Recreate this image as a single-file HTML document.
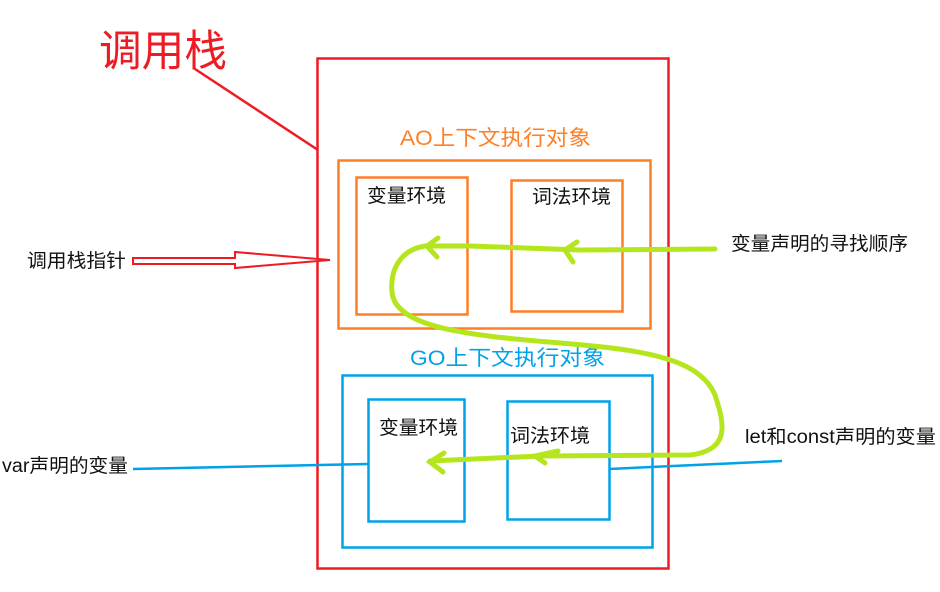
<!DOCTYPE html>
<html><head><meta charset="utf-8"><style>
body{margin:0;background:#fff}
svg{display:block}
text{font-family:"Liberation Sans","Noto Sans CJK SC",sans-serif}
</style></head><body>
<svg width="940" height="592" viewBox="0 0 940 592" xmlns="http://www.w3.org/2000/svg">
<rect x="0" y="0" width="940" height="592" fill="#fff"/>
<text x="99" y="66" font-size="43" fill="#ed1c24" textLength="128" lengthAdjust="spacingAndGlyphs">调用栈</text>
<line x1="195" y1="69" x2="318" y2="150" stroke="#ed1c24" stroke-width="2.5"/>
<rect x="317.5" y="58.5" width="351" height="510" fill="none" stroke="#ed1c24" stroke-width="2.5"/>
<text x="400" y="145" font-size="21" fill="#ff7f27" textLength="191" lengthAdjust="spacingAndGlyphs">AO上下文执行对象</text>
<rect x="338.5" y="160.5" width="312" height="168" fill="none" stroke="#ff7f27" stroke-width="2.5"/>
<rect x="356.5" y="177.5" width="111" height="137" fill="none" stroke="#ff7f27" stroke-width="2.5"/>
<rect x="511.5" y="180.5" width="111" height="131" fill="none" stroke="#ff7f27" stroke-width="2.5"/>
<text x="367" y="202" font-size="19" fill="#111" textLength="79" lengthAdjust="spacingAndGlyphs">变量环境</text>
<text x="532" y="203" font-size="19" fill="#111" textLength="79" lengthAdjust="spacingAndGlyphs">词法环境</text>
<text x="410" y="365" font-size="21" fill="#00a2e8" textLength="195" lengthAdjust="spacingAndGlyphs">GO上下文执行对象</text>
<rect x="342.5" y="375.5" width="310" height="172" fill="none" stroke="#00a2e8" stroke-width="2.5"/>
<rect x="368.5" y="399.5" width="96" height="122" fill="none" stroke="#00a2e8" stroke-width="2.5"/>
<rect x="507.5" y="401.5" width="102" height="118" fill="none" stroke="#00a2e8" stroke-width="2.5"/>
<text x="379" y="434" font-size="19" fill="#111" textLength="79" lengthAdjust="spacingAndGlyphs">变量环境</text>
<text x="510" y="442" font-size="19" fill="#111" textLength="80" lengthAdjust="spacingAndGlyphs">词法环境</text>
<text x="27" y="267" font-size="19" fill="#111" textLength="99" lengthAdjust="spacingAndGlyphs">调用栈指针</text>
<polygon points="133,258 235,258 235,252 330,260 235,268 235,264 133,264" fill="#fff" stroke="#ed1c24" stroke-width="2"/>
<text x="731" y="250" font-size="19" fill="#111" textLength="177" lengthAdjust="spacingAndGlyphs">变量声明的寻找顺序</text>
<text x="745" y="443" font-size="19" fill="#111" textLength="191" lengthAdjust="spacingAndGlyphs">let和const声明的变量</text>
<text x="2" y="472" font-size="19" fill="#111" textLength="126" lengthAdjust="spacingAndGlyphs">var声明的变量</text>
<line x1="133" y1="469" x2="368" y2="464" stroke="#00a2e8" stroke-width="2.5"/>
<line x1="609" y1="469" x2="782" y2="461" stroke="#00a2e8" stroke-width="2.5"/>
<path d="M715,249 L580,250 L470,246 L425,246 C400,250 390,270 392,292 C395,330 480,336 560,343 C650,350 700,360 715,395 C725,425 730,450 690,455 L540,456 L430,461" fill="none" stroke="#b5e61d" stroke-width="5" stroke-linecap="round" stroke-linejoin="round"/>
<path d="M577,242 L565,250 L573,262" fill="none" stroke="#b5e61d" stroke-width="5" stroke-linecap="round"/>
<path d="M438,238 L427,246 L437,257" fill="none" stroke="#b5e61d" stroke-width="5" stroke-linecap="round"/>
<path d="M558,451 L535,456 L545,463" fill="none" stroke="#b5e61d" stroke-width="5" stroke-linecap="round"/>
<path d="M444,453 L430,462 L443,472" fill="none" stroke="#b5e61d" stroke-width="5" stroke-linecap="round"/>
</svg>
</body></html>
